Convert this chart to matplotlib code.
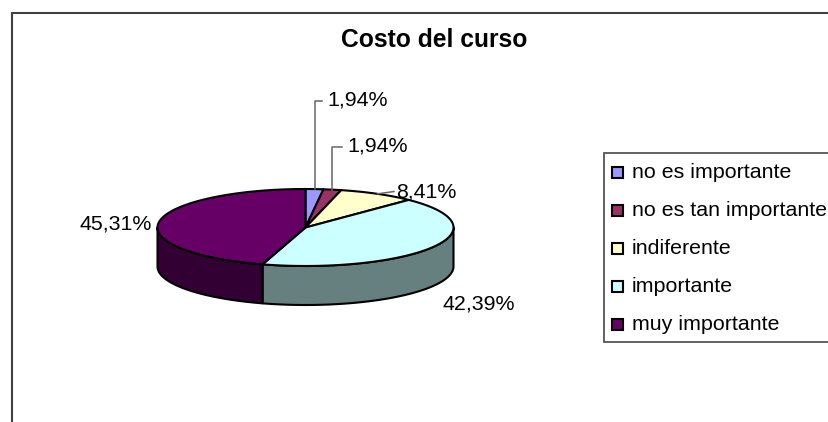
"""
Pie chart in fake 3D for the "Costo del curso" survey question.
"""
import matplotlib
matplotlib.use("Agg")
import matplotlib.pyplot as plt
import numpy as np
from matplotlib.patches import Polygon, Rectangle

TITLE = "Costo del curso"
categories = ["no es importante", "no es tan importante", "indiferente",
              "importante", "muy importante"]
percentages = [1.94, 1.94, 8.41, 42.39, 45.31]
top_colors = ["#9999FF", "#993366", "#FFFFCC", "#CCFFFF", "#660066"]
side_colors = ["#4D4D80", "#4D1A33", "#808066", "#668080", "#330033"]

# Ellipse of the pie, in image pixels
CX, CY = 305.5, 227.5
RX, RY = 148, 38.5
DEPTH = 39
FONT = "Liberation Sans"
LABEL_SIZE = 15.4
EDGE_WIDTH = 1.5


def pie_point(angle, depth=0):
    """
    Get the pixel position of an angle on the pie edge.

    Parameters:
        angle: Degrees clockwise from the top of the pie.
        depth: Vertical shift for the lower rim.

    Returns:
        Tuple of x and y arrays.
    """
    rad = np.radians(angle)
    return CX + RX * np.sin(rad), CY - RY * np.cos(rad) + depth


def draw_side(ax, start, end, color):
    """
    Draw the visible front wall of one slice, if it has one.
    """
    # Only the part between 90 and 270 degrees faces the viewer
    low, high = max(start, 90), min(end, 270)
    if low >= high:
        return
    angles = np.linspace(low, high, 60)
    x_top, y_top = pie_point(angles)
    x_low, y_low = pie_point(angles[::-1], DEPTH)
    points = np.column_stack([np.r_[x_top, x_low], np.r_[y_top, y_low]])
    ax.add_patch(Polygon(points, closed=True, facecolor=color,
                         edgecolor="black", linewidth=EDGE_WIDTH,
                         joinstyle="round"))


def draw_top(ax, start, end, color):
    """
    Draw the top face of one slice.
    """
    angles = np.linspace(start, end, 120)
    x_top, y_top = pie_point(angles)
    points = np.column_stack([np.r_[CX, x_top], np.r_[CY, y_top]])
    ax.add_patch(Polygon(points, closed=True, facecolor=color,
                         edgecolor="black", linewidth=EDGE_WIDTH,
                         joinstyle="round"))


fig = plt.figure(figsize=(8.29, 4.22), dpi=100, facecolor="white")
ax = fig.add_axes([0, 0, 1, 1])
ax.set_xlim(0, 829)
ax.set_ylim(422, 0)
ax.axis("off")

# Chart frame runs off the right and bottom of the image
ax.plot([12.5, 12.5, 829], [422, 12.5, 12.5], color="#404040", linewidth=1.5,
        solid_joinstyle="miter")

ax.text(434.5, 47, TITLE, family=FONT, fontsize=17.7, fontweight="bold",
        ha="center", va="baseline", color="black")

edges = np.r_[0, np.cumsum(percentages)] / sum(percentages) * 360
for i in range(len(percentages)):
    draw_side(ax, edges[i], edges[i + 1], side_colors[i])
for i in range(len(percentages)):
    draw_top(ax, edges[i], edges[i + 1], top_colors[i])

# Data labels, with leader lines for the three small slices
mids = (edges[:-1] + edges[1:]) / 2
label_pos = [(327, 106), (347, 152), (396, 198), (443, 310), (80, 229)]
for value, (lx, ly) in zip(percentages, label_pos):
    ax.text(lx, ly, f"{value:.2f}%".replace(".", ","), family=FONT,
            fontsize=LABEL_SIZE, ha="left", va="baseline", color="black")

x0, y0 = pie_point(mids[0])
ax.plot([x0, x0, 322.5], [y0, 100.5, 100.5], color="#666666", linewidth=1.1)
x1, y1 = pie_point(mids[1])
ax.plot([x1, x1, 342.5], [y1, 146.5, 146.5], color="#666666", linewidth=1.1)
x2, y2 = pie_point(mids[2])
ax.plot([x2, 394], [y2, 191.5], color="#666666", linewidth=1.1)

# Legend box, also cut off by the right edge
ax.plot([829, 604.5, 604.5, 829], [152.5, 152.5, 341.5, 341.5],
        color="#555555", linewidth=1.3, solid_joinstyle="miter")
legend_y = [172, 210, 248, 286, 324]
for name, color, ly in zip(categories, top_colors, legend_y):
    ax.add_patch(Rectangle((612.5, ly - 5.5), 11, 11, facecolor=color,
                           edgecolor="black", linewidth=1.5))
    ax.text(632, ly + 6, name, family=FONT, fontsize=LABEL_SIZE, ha="left",
            va="baseline", color="black")

fig.savefig("out.png", dpi=100)
